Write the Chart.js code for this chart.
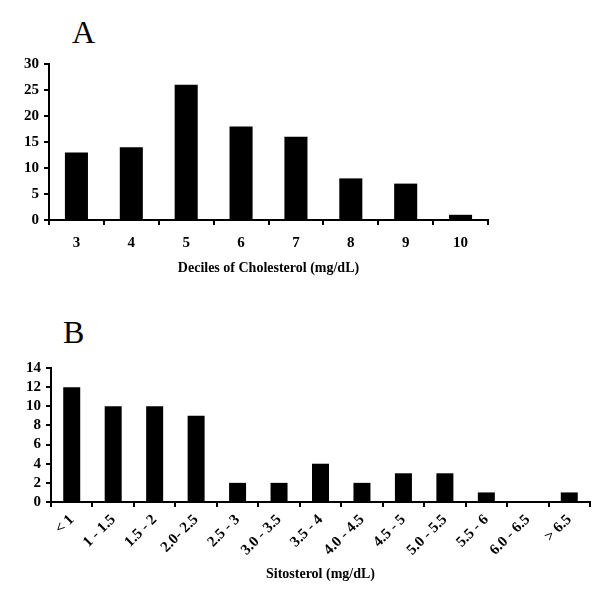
<!DOCTYPE html>
<html>
<head>
<meta charset="utf-8">
<script src="https://cdn.jsdelivr.net/npm/chart.js@4"></script>
<style>
html,body{margin:0;padding:0;background:#fff;}
body{width:600px;height:600px;position:relative;overflow:hidden;}
.box{position:absolute;left:0;width:600px;}
.letter{position:absolute;font-family:"Liberation Serif","Times New Roman",serif;font-size:32px;line-height:32px;color:#000;}
</style>
</head>
<body>
<div class="letter" style="left:72px;top:16px;">A</div>
<div class="letter" style="left:63px;top:316px;">B</div>
<div class="box" style="top:50px;height:231px;"><canvas id="cA"></canvas></div>
<div class="box" style="top:350px;height:237px;"><canvas id="cB"></canvas></div>
<script>
const cholesterolDeciles = ["3","4","5","6","7","8","9","10"];
const cholesterolCounts = [13,14,26,18,16,8,7,1];
const cholesterolTicks = [0,5,10,15,20,25,30];

const sitosterolBins = ["< 1","1 - 1.5","1.5 - 2","2.0- 2.5","2.5 - 3","3.0 - 3.5","3.5 - 4","4.0 - 4.5","4.5 - 5","5.0 - 5.5","5.5 - 6","6.0 - 6.5","> 6.5"];
const sitosterolCounts = [12,10,10,9,2,2,4,2,3,3,1,0,1];
const sitosterolTicks = [0,2,4,6,8,10,12,14];

const serif = '"Liberation Serif","Times New Roman",serif';

function makeChart(id, labels, data, ticks, xTitle, opts) {
  return new Chart(document.getElementById(id), {
    type: 'bar',
    data: {
      labels: labels,
      datasets: [{
        data: data,
        backgroundColor: '#000',
        borderWidth: 0,
        categoryPercentage: 1,
        barPercentage: opts.barPct
      }]
    },
    options: {
      responsive: true,
      maintainAspectRatio: false,
      animation: false,
      events: [],
      layout: { padding: { left: 0, right: opts.padRight, top: opts.padTop, bottom: 0 } },
      plugins: { legend: { display: false }, tooltip: { enabled: false } },
      scales: {
        x: {
          grid: { drawOnChartArea: false, drawTicks: true, tickLength: 5, color: '#000', lineWidth: 2, offset: true },
          border: { color: '#000', width: 2 },
          ticks: {
            color: '#000',
            font: { family: serif, size: opts.xFont, weight: 'bold' },
            autoSkip: false,
            minRotation: opts.rot,
            maxRotation: opts.rot,
            padding: opts.xPad
          },
          title: {
            display: true,
            text: xTitle,
            color: '#000',
            font: { family: serif, size: 14, weight: 'bold' },
            padding: { top: 4, bottom: 4 }
          },
          afterFit: s => { s.height = opts.xHeight; }
        },
        y: {
          min: ticks[0],
          max: ticks[ticks.length - 1],
          grid: { drawOnChartArea: false, drawTicks: true, tickLength: 5, color: '#000', lineWidth: 2 },
          border: { color: '#000', width: 2 },
          ticks: {
            color: '#000',
            font: { family: serif, size: 15, weight: 'bold' },
            padding: 5,
            autoSkip: false,
            stepSize: ticks[1] - ticks[0]
          },
          afterBuildTicks: s => { s.ticks = ticks.map(v => ({ value: v })); },
          afterFit: s => { s.width = opts.yWidth; }
        }
      }
    }
  });
}

makeChart('cA', cholesterolDeciles, cholesterolCounts, cholesterolTicks, 'Deciles of Cholesterol (mg/dL)',
  { barPct: 0.42, padRight: 112, padTop: 9, xHeight: 61, yWidth: 49, rot: 0, xFont: 15, xPad: 9 });
makeChart('cB', sitosterolBins, sitosterolCounts, sitosterolTicks, 'Sitosterol (mg/dL)',
  { barPct: 0.41, padRight: 10, padTop: 18, xHeight: 85, yWidth: 51, rot: 45, xFont: 15, xPad: 4 });
</script>
</body>
</html>
